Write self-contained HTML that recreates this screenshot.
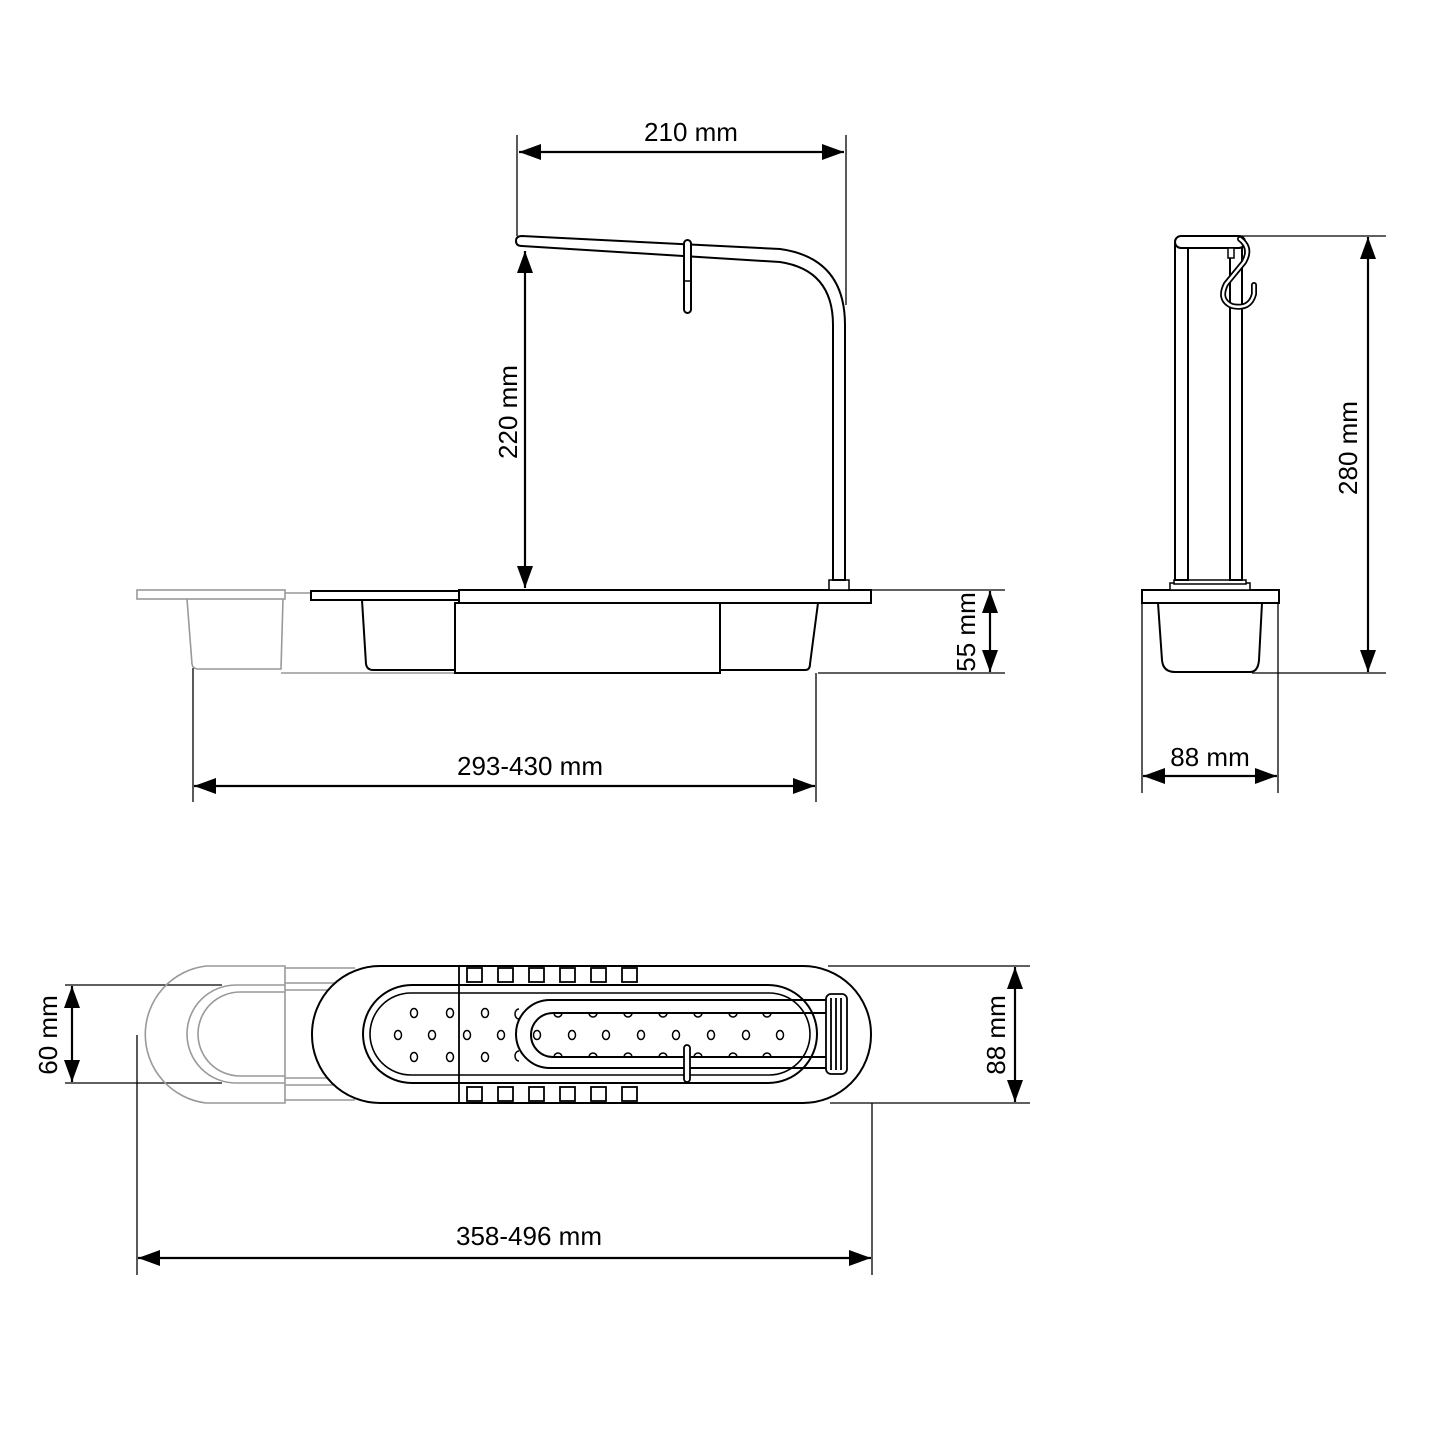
<!DOCTYPE html>
<html><head><meta charset="utf-8"><style>
html,body{margin:0;padding:0;background:#fff}
svg{display:block}
text{font-family:"Liberation Sans",sans-serif;font-size:26px;fill:#000}
</style></head><body>
<svg width="1440" height="1440" viewBox="0 0 1440 1440" xmlns="http://www.w3.org/2000/svg">
<defs>
<marker id="a" viewBox="0 0 22 16" refX="22" refY="8" markerWidth="22" markerHeight="16" markerUnits="userSpaceOnUse" orient="auto-start-reverse"><path d="M0,0 L22,8 L0,16 z" fill="#000"/></marker>
</defs>
<g fill="none" stroke="#000" stroke-width="1.3">
<line x1="517" y1="135" x2="517" y2="236"/>
<line x1="846" y1="135" x2="846" y2="305"/>
<line x1="872" y1="590" x2="1005" y2="590"/>
<line x1="818" y1="673" x2="1005" y2="673"/>
<line x1="193" y1="668" x2="193" y2="802"/>
<line x1="816" y1="673" x2="816" y2="802"/>
<line x1="1240" y1="236" x2="1386" y2="236"/>
<line x1="1252" y1="673" x2="1386" y2="673"/>
<line x1="1142" y1="603" x2="1142" y2="793"/>
<line x1="1278" y1="603" x2="1278" y2="793"/>
<line x1="65" y1="985" x2="222" y2="985"/>
<line x1="65" y1="1083" x2="222" y2="1083"/>
<line x1="828" y1="966" x2="1030" y2="966"/>
<line x1="830" y1="1103" x2="1030" y2="1103"/>
<line x1="137" y1="1035" x2="137" y2="1275"/>
<line x1="872" y1="1103" x2="872" y2="1275"/>
</g>
<g fill="none" stroke="#000" stroke-width="2.2">
<line x1="519" y1="152" x2="844" y2="152" marker-start="url(#a)" marker-end="url(#a)"/>
<line x1="525" y1="251" x2="525" y2="588" marker-start="url(#a)" marker-end="url(#a)"/>
<line x1="990" y1="591" x2="990" y2="672" marker-start="url(#a)" marker-end="url(#a)"/>
<line x1="194" y1="786" x2="815" y2="786" marker-start="url(#a)" marker-end="url(#a)"/>
<line x1="1368" y1="237" x2="1368" y2="672" marker-start="url(#a)" marker-end="url(#a)"/>
<line x1="1143" y1="776" x2="1277" y2="776" marker-start="url(#a)" marker-end="url(#a)"/>
<line x1="72" y1="986" x2="72" y2="1082" marker-start="url(#a)" marker-end="url(#a)"/>
<line x1="1015" y1="967" x2="1015" y2="1102" marker-start="url(#a)" marker-end="url(#a)"/>
<line x1="138" y1="1258" x2="871" y2="1258" marker-start="url(#a)" marker-end="url(#a)"/>
</g>
<text x="691" y="141" text-anchor="middle">210 mm</text>
<text x="530" y="775" text-anchor="middle">293-430 mm</text>
<text x="1210" y="766" text-anchor="middle">88 mm</text>
<text x="529" y="1245" text-anchor="middle">358-496 mm</text>
<text transform="translate(517,412) rotate(-90)" text-anchor="middle">220 mm</text>
<text transform="translate(975,632) rotate(-90)" text-anchor="middle">55 mm</text>
<text transform="translate(1357,448) rotate(-90)" text-anchor="middle">280 mm</text>
<text transform="translate(57,1035) rotate(-90)" text-anchor="middle">60 mm</text>
<text transform="translate(1005,1035) rotate(-90)" text-anchor="middle">88 mm</text>

<g fill="none" stroke="#999" stroke-width="1.6">
<rect x="137" y="590" width="148" height="9"/>
<path d="M187,599 L192,664 Q193,669 198,669 L281,669 L283,599"/>
<line x1="285" y1="593" x2="311" y2="593"/>
<line x1="281" y1="673" x2="455" y2="673"/>
</g>
<g fill="#fff" stroke="#000" stroke-width="2">
<path d="M362,600 L366,664 Q367,670 373,670 L455,670"/>
<path d="M720,603 L720,670 L805,670 Q810,670 810,664 L818,603"/>
<rect x="455" y="603" width="265" height="70"/>
<rect x="311" y="591" width="148" height="9"/>
<rect x="459" y="590" width="412" height="13"/>
<rect x="829" y="580" width="20" height="10" stroke-width="1.5"/>
<path d="M522,236 L780,249 Q845,258 845,325 L845,580 L833,580 L833,325 Q833,270 780,262 L522,246 Q516,246 516,241 Q516,236 522,236 Z"/>
<rect x="684" y="240" width="7" height="73" rx="3.5"/>
<line x1="684" y1="281" x2="691" y2="281" stroke-width="1.5"/>
</g>

<g fill="#fff" stroke="#000" stroke-width="2">
<path d="M1158,603 L1162,660 Q1163,672 1175,672 L1250,672 Q1258,672 1259,660 L1262,603"/>
<rect x="1142" y="590" width="137" height="13"/>
<rect x="1170" y="583" width="80" height="7" stroke-width="1.5"/>
<rect x="1174" y="580" width="72" height="4" stroke-width="1.5"/>
<rect x="1175" y="244" width="13" height="336"/>
<line x1="1188" y1="244" x2="1188" y2="580"/>
<rect x="1230" y="244" width="12" height="336"/>
<rect x="1175" y="236" width="70" height="12" rx="6"/>
<rect x="1228" y="248" width="6" height="10" stroke-width="1.5"/>
</g>
<g fill="none">
<path d="M1240,239 Q1252,248 1244,262 L1226,284 Q1218,300 1232,306 Q1250,310 1254,294 L1254,285" stroke-width="6" stroke="#000" stroke-linecap="round"/>
<path d="M1240,239 Q1252,248 1244,262 L1226,284 Q1218,300 1232,306 Q1250,310 1254,294 L1254,285" stroke-width="2.5" stroke="#fff" stroke-linecap="round"/>
</g>

<g fill="none" stroke="#999" stroke-width="1.6">
<path d="M285,966 L206,966 A69,69 0 0 0 206,1103 L285,1103 Z"/>
<path d="M285,985 L236,985 A49,49 0 0 0 236,1083 L285,1083"/>
<path d="M285,992 L240,992 A42,42 0 0 0 240,1076 L285,1076"/>
<line x1="285" y1="968" x2="355" y2="968"/>
<line x1="285" y1="983" x2="340" y2="983"/>
<line x1="285" y1="990" x2="330" y2="990"/>
<line x1="285" y1="1078" x2="330" y2="1078"/>
<line x1="285" y1="1085" x2="340" y2="1085"/>
<line x1="285" y1="1100" x2="355" y2="1100"/>
</g>
<g fill="#fff" stroke="#000" stroke-width="2">
<rect x="312" y="966" width="559" height="137" rx="68"/>
<rect x="363" y="985" width="454" height="98" rx="49"/>
<rect x="370" y="993" width="440" height="82" rx="41" stroke-width="1.6"/>
</g>
<g fill="none" stroke="#000" stroke-width="1.8">
<line x1="459" y1="966" x2="459" y2="1103"/>
<g id="sq">
<rect x="467" y="968" width="15" height="14"/><rect x="498" y="968" width="15" height="14"/><rect x="529" y="968" width="15" height="14"/><rect x="560" y="968" width="15" height="14"/><rect x="591" y="968" width="15" height="14"/><rect x="622" y="968" width="15" height="14"/>
</g>
<use href="#sq" y="119"/>
<g stroke-width="1.5">
<ellipse cx="414" cy="1013" rx="3.5" ry="4.5"/><ellipse cx="450" cy="1013" rx="3.5" ry="4.5"/><ellipse cx="485" cy="1013" rx="3.5" ry="4.5"/>
<ellipse cx="414" cy="1057" rx="3.5" ry="4.5"/><ellipse cx="450" cy="1057" rx="3.5" ry="4.5"/><ellipse cx="485" cy="1057" rx="3.5" ry="4.5"/>
<ellipse cx="398" cy="1035" rx="3.5" ry="4.5"/><ellipse cx="432" cy="1035" rx="3.5" ry="4.5"/><ellipse cx="467" cy="1035" rx="3.5" ry="4.5"/><ellipse cx="501" cy="1035" rx="3.5" ry="4.5"/><ellipse cx="537" cy="1035" rx="3.5" ry="4.5"/><ellipse cx="572" cy="1035" rx="3.5" ry="4.5"/><ellipse cx="606" cy="1035" rx="3.5" ry="4.5"/><ellipse cx="641" cy="1035" rx="3.5" ry="4.5"/><ellipse cx="676" cy="1035" rx="3.5" ry="4.5"/><ellipse cx="711" cy="1035" rx="3.5" ry="4.5"/><ellipse cx="746" cy="1035" rx="3.5" ry="4.5"/><ellipse cx="780" cy="1035" rx="3.5" ry="4.5"/>
</g>
<path d="M842,1000 L550,1000 A34,34 0 0 0 550,1068 L842,1068" stroke-width="2"/>
<path d="M842,1013 L553,1013 A22,22 0 0 0 553,1057 L842,1057" stroke-width="2"/>
<path d="M519,1009 a4,5 0 0 0 0,10 M554,1013 a4,4 0 0 0 8,0 M589,1013 a4,4 0 0 0 8,0 M624,1013 a4,4 0 0 0 8,0 M659,1013 a4,4 0 0 0 8,0 M694,1013 a4,4 0 0 0 8,0 M729,1013 a4,4 0 0 0 8,0 M763,1013 a4,4 0 0 0 8,0 M554,1057 a4,4 0 0 1 8,0 M589,1057 a4,4 0 0 1 8,0 M624,1057 a4,4 0 0 1 8,0 M659,1057 a4,4 0 0 1 8,0 M694,1057 a4,4 0 0 1 8,0 M729,1057 a4,4 0 0 1 8,0 M763,1057 a4,4 0 0 1 8,0 M519,1051 a4,5 0 0 0 0,10" stroke-width="1.5"/>
<rect x="826" y="994" width="21" height="80" rx="5" fill="#fff"/>
<line x1="831" y1="998" x2="831" y2="1070"/><line x1="836" y1="998" x2="836" y2="1070"/><line x1="841" y1="998" x2="841" y2="1070"/>
<rect x="684" y="1045" width="6" height="37" rx="3" fill="#fff"/>
</g>
</svg>
</body></html>
